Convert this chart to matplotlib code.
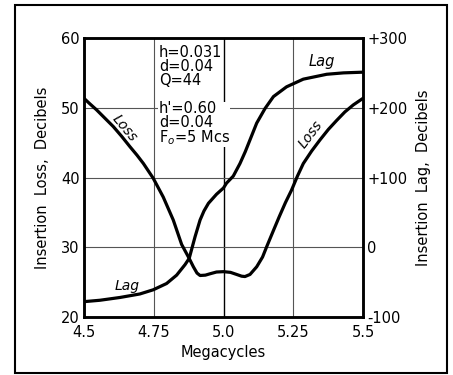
# insertion loss and lag of a crystal filter, 4.5 - 5.5 Mc
import matplotlib.pyplot as plt
from matplotlib.patches import Rectangle

# loss curve (left axis, decibels)
loss_f = [4.50, 4.52, 4.545, 4.575, 4.605, 4.635, 4.665, 4.69, 4.713, 4.748,
          4.784, 4.82, 4.85, 4.877, 4.892, 4.905, 4.916, 4.935, 4.952, 4.975,
          5.00, 5.025, 5.047, 5.065, 5.077, 5.095, 5.119, 5.14, 5.155, 5.18,
          5.20, 5.222, 5.244, 5.265, 5.286, 5.316, 5.346, 5.376, 5.406, 5.435,
          5.465, 5.50]
loss_db = [51.35, 50.6, 49.7, 48.5, 47.3, 45.9, 44.4, 43.2, 42.0, 39.9,
           37.2, 33.9, 30.4, 28.4, 27.2, 26.3, 25.95, 26.0, 26.2, 26.45,
           26.5, 26.4, 26.1, 25.85, 25.8, 26.1, 27.2, 28.6, 30.1, 32.5,
           34.4, 36.4, 38.2, 40.2, 42.0, 43.8, 45.4, 46.9, 48.2, 49.4,
           50.4, 51.35]

# lag curve (right axis)
lag_f = [4.50, 4.557, 4.629, 4.70, 4.748, 4.796, 4.832, 4.862, 4.877, 4.898,
         4.916, 4.93, 4.946, 4.975, 5.00, 5.011, 5.035, 5.059, 5.078, 5.095,
         5.119, 5.149, 5.179, 5.226, 5.286, 5.37, 5.43, 5.50]
lag_val = [-78, -76, -72, -67, -61, -52, -40, -25, -16, 15,
           39, 52, 63, 76, 85, 92, 102, 120, 137, 154,
           178, 199, 216, 230, 241, 248, 250, 251]

xticks = [4.5, 4.75, 5.0, 5.25, 5.5]
xtick_labels = ['4.5', '4.75', '5.0', '5.25', '5.5']
left_ticks = [20, 30, 40, 50, 60]
right_ticks = [-100, 0, 100, 200, 300]
right_labels = ['-100', '0', '+100', '+200', '+300']

plt.rcParams['font.family'] = 'DejaVu Sans'
fig = plt.figure(figsize=(4.53, 3.75), dpi=100)
fig.patches.append(Rectangle((15/453, 2/375), 432/453, 368/375, transform=fig.transFigure,
                             fill=False, lw=1.5, edgecolor='black'))

ax = fig.add_axes([84/453, 58/375, 279/453, 279/375])
ax.set_xlim(4.5, 5.5)
ax.set_ylim(20, 60)

# grid
for x in [4.75, 5.25]:
    ax.axvline(x, color='#555555', lw=0.8, zorder=1)
ax.axvline(5.0, color='black', lw=1.0, zorder=1)
for y in [30, 40, 50]:
    ax.axhline(y, color='#555555', lw=0.8, zorder=1)

ax.plot(loss_f, loss_db, color='black', lw=2.3, zorder=3, solid_joinstyle='round')

ax2 = ax.twinx()
ax2.set_ylim(-100, 300)
ax2.plot(lag_f, lag_val, color='black', lw=2.3, zorder=3, solid_joinstyle='round')

ax.set_xticks(xticks)
ax.set_xticklabels(xtick_labels)
ax.set_yticks(left_ticks)
ax2.set_yticks(right_ticks)
ax2.set_yticklabels(right_labels)
for a in (ax, ax2):
    a.tick_params(axis='y', length=0, labelsize=10.5, pad=3)
    for s in a.spines.values():
        s.set_linewidth(1.8)
ax.tick_params(axis='x', length=0, labelsize=10.5, pad=6)

ax.set_xlabel('Megacycles', fontsize=10.5, labelpad=3)
ax.set_ylabel('Insertion  Loss,  Decibels', fontsize=10.5, labelpad=8)
ax2.set_ylabel('Insertion  Lag,  Decibels', fontsize=10.5, labelpad=6, rotation=90)

# parameter block
ax.text(4.768, 58.95, 'h=0.031\nd=0.04\nQ=44', fontsize=10.5, va='top', ha='left',
        linespacing=0.9, zorder=4)
ax.text(4.768, 51.0, "h'=0.60\nd=0.04\nF$_o$=5 Mcs", fontsize=10.5, va='top', ha='left',
        linespacing=0.9, zorder=4, bbox=dict(facecolor='white', edgecolor='none', pad=0.3))

# curve labels
ax.text(4.647, 47.0, 'Loss', fontsize=10, style='italic', rotation=-50, ha='center', va='center')
ax.text(5.312, 46.2, 'Loss', fontsize=10, style='italic', rotation=53, ha='center', va='center')
ax.text(5.352, 56.6, 'Lag', fontsize=10.5, style='italic', ha='center', va='center')
ax.text(4.653, 24.4, 'Lag', fontsize=10, style='italic', ha='center', va='center')

plt.savefig('out.png', dpi=100)
